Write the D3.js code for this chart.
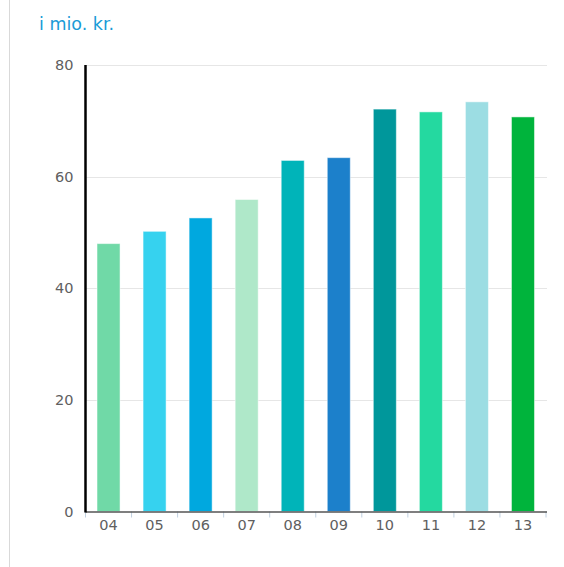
<!DOCTYPE html>
<html><head><meta charset="utf-8">
<script src="https://cdn.jsdelivr.net/npm/d3@7"></script>
<style>
html,body{margin:0;padding:0;background:#fff;}
svg{display:block;}
</style></head>
<body>
<svg id="c" width="564" height="567"></svg>
<script>
const categories = ["04","05","06","07","08","09","10","11","12","13"];
const values = [48.0, 50.2, 52.6, 55.9, 62.9, 63.4, 72.1, 71.6, 73.4, 70.7];
const colors = ["#70d9a7","#36d2ef","#00a8df","#afe8c9","#00b4b9","#1c80cb","#00979b","#24d9a0","#9cdde3","#00b43c"];
const yTicks = [0,20,40,60,80];
const title = "i mio. kr.";

const svg = d3.select("#c");
const m = {left:85.5, right:546, top:65, bottom:511.5};
const x = d3.scaleBand().domain(categories).range([m.left, m.right]).paddingInner(0.5).paddingOuter(0.25);
const xb = d3.scaleBand().domain(categories).range([m.left, m.right]);
const y = d3.scaleLinear().domain([0,80]).range([m.bottom, m.top]);

// left border line
svg.append("line").attr("x1",9.5).attr("x2",9.5).attr("y1",0).attr("y2",567)
  .attr("stroke","#d9d9d9").attr("stroke-width",1);

// title
svg.append("text").attr("x",39).attr("y",30).text(title)
  .attr("font-family","DejaVu Sans, sans-serif").attr("font-size",17.5).attr("fill","#1a9bd7");

// grid
svg.append("g").selectAll("line").data(yTicks.filter(d=>d>0)).join("line")
  .attr("x1",m.left).attr("x2",547).attr("y1",d=>Math.round(y(d))+0.5).attr("y2",d=>Math.round(y(d))+0.5)
  .attr("stroke","#e6e6e6").attr("stroke-width",1);

// y labels
const yAxis = d3.axisLeft(y).tickValues(yTicks).tickSize(0).tickPadding(12);
const gy = svg.append("g").attr("transform",`translate(${m.left},0)`).call(yAxis);
gy.select(".domain").remove();
gy.attr("font-size",null).attr("font-family",null);
gy.selectAll("text").style("font-family","DejaVu Sans, sans-serif").style("font-size","14.5px").attr("fill","#606060");

// bars
svg.append("g").selectAll("rect").data(values).join("rect")
  .attr("x",(d,i)=>x(categories[i]))
  .attr("width",x.bandwidth())
  .attr("y",d=>y(d))
  .attr("height",d=>y(0)-y(d))
  .attr("fill",(d,i)=>colors[i])
  .attr("stroke","rgba(255,255,255,0.5)").attr("stroke-width",1);

// x axis
const xAxis = d3.axisBottom(xb).tickSize(0).tickPadding(8);
const gx = svg.append("g").attr("transform",`translate(0,${m.bottom})`).call(xAxis);
gx.select(".domain").remove();
gx.attr("font-size",null).attr("font-family",null);
gx.selectAll("text").style("font-family","DejaVu Sans, sans-serif").style("font-size","14.5px").attr("fill","#606060");
// tick marks at band boundaries
const bounds = categories.map(c=>xb(c)).concat([m.right]);
svg.append("g").selectAll("line").data(bounds).join("line")
  .attr("x1",d=>d).attr("x2",d=>d).attr("y1",m.bottom).attr("y2",m.bottom+6)
  .attr("stroke","#c0d0e0").attr("stroke-width",1);
svg.append("line").attr("x1",m.left).attr("x2",m.right+1).attr("y1",m.bottom+0.5).attr("y2",m.bottom+0.5)
  .attr("stroke","#555").attr("stroke-width",1.5);
// y axis line
svg.append("line").attr("x1",m.left).attr("x2",m.left).attr("y1",m.top).attr("y2",m.bottom+1)
  .attr("stroke","#000").attr("stroke-width",2.5);
</script>
</body></html>
